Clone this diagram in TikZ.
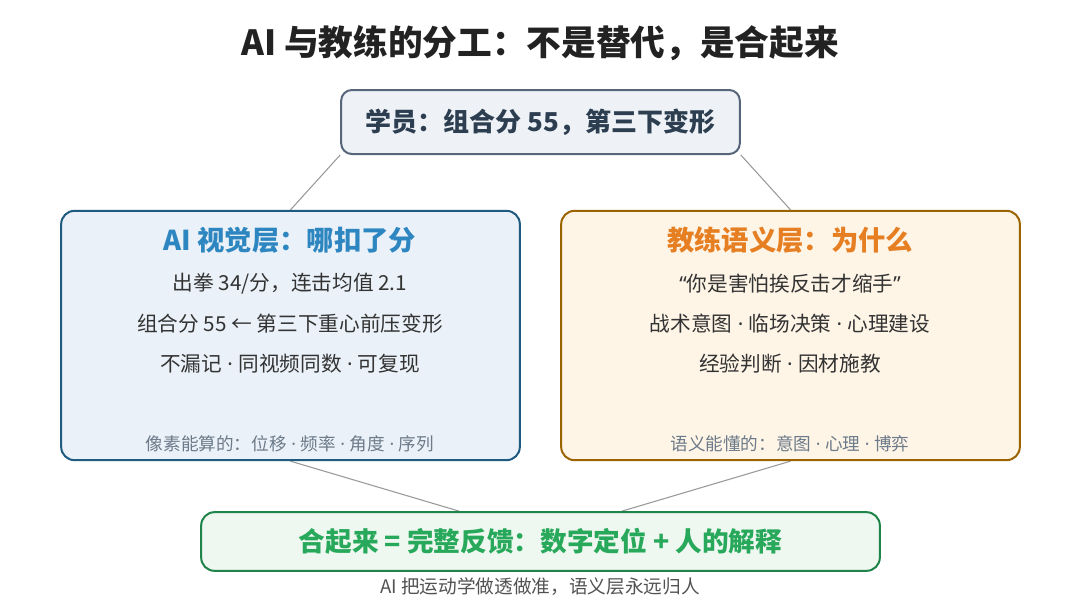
\documentclass[tikz,border=0pt]{standalone}
\usepackage{fontspec}
\setmainfont{Noto Sans CJK SC}
\newfontfamily\latinfont{Noto Sans}
\usetikzlibrary{backgrounds}

\definecolor{titleink}{HTML}{222222}
\definecolor{bodyink}{HTML}{333333}
\definecolor{noteink}{HTML}{6C7A89}
\definecolor{linkgray}{HTML}{999999}
\definecolor{studentfill}{HTML}{EEF2F7}
\definecolor{studentline}{HTML}{56657A}
\definecolor{studentink}{HTML}{2C3E50}
\definecolor{aifill}{HTML}{EAF1F8}
\definecolor{ailine}{HTML}{1F5A80}
\definecolor{aiink}{HTML}{2E86C1}
\definecolor{coachfill}{HTML}{FEF5E7}
\definecolor{coachline}{HTML}{9C6400}
\definecolor{coachink}{HTML}{E67E22}
\definecolor{wholefill}{HTML}{EEF8F1}
\definecolor{wholeline}{HTML}{1E8449}
\definecolor{wholeink}{HTML}{27A85A}

% narrow separator dot and quotes
\newcommand{\sepdot}{{\latinfont\ ·\ }}
\newcommand{\openq}{{\latinfont “}}
\newcommand{\closeq}{{\latinfont ”}}

\begin{document}
\begin{tikzpicture}[x=0.75pt,y=-0.75pt,
    panel/.style={line width=1.5pt, rounded corners=10pt, inner sep=0pt},
    link/.style={draw=linkgray, line width=0.8pt},
    headtext/.style={font=\fontsize{20.5}{24}\selectfont\bfseries},
    bodytext/.style={font=\fontsize{15.5}{18}\selectfont, text=bodyink},
    notetext/.style={font=\fontsize{13.2}{16}\selectfont, text=noteink}]

    \useasboundingbox (0,0) rectangle (1080,603);

    % Title
    \node[font=\fontsize{26}{31}\selectfont\bfseries, text=titleink] (title) at (540,43) {AI 与教练的分工：不是替代，是合起来};

    % Student box
    \node[panel, draw=studentline, fill=studentfill, rounded corners=8pt, minimum width=299pt, minimum height=48pt,
          font=\fontsize{19.5}{23}\selectfont\bfseries, text=studentink] (student) at (540.5,122) {学员：组合分 55，第三下变形};

    % AI vision layer
    \node[panel, draw=ailine, fill=aifill, minimum width=344pt, minimum height=187pt] (aiview) at (290.5,335.5) {};
    \node[headtext, text=aiink] (aihead) at (290,240) {AI 视觉层：哪扣了分};
    \node[bodytext] (aione) at (290,284) {出拳 34/分，连击均值 2.1};
    \node[bodytext] (aitwo) at (290,324) {组合分 55 ← 第三下重心前压变形};
    \node[bodytext] (aithree) at (290,364) {不漏记\sepdot 同视频同数\sepdot 可复现};
    \node[notetext] (ainote) at (290,444) {像素能算的：位移\sepdot 频率\sepdot 角度\sepdot 序列};

    % Coach semantic layer
    \node[panel, draw=coachline, fill=coachfill, minimum width=344pt, minimum height=187pt] (coach) at (790.5,335.5) {};
    \node[headtext, text=coachink] (coachhead) at (790,240) {教练语义层：为什么};
    \node[bodytext] (coachone) at (790,284) {\openq 你是害怕挨反击才缩手\closeq};
    \node[bodytext] (coachtwo) at (790,324) {战术意图\sepdot 临场决策\sepdot 心理建设};
    \node[bodytext] (coachthree) at (790,364) {经验判断\sepdot 因材施教};
    \node[notetext] (coachnote) at (790,444) {语义能懂的：意图\sepdot 心理\sepdot 博弈};

    % Combined feedback
    \node[panel, draw=wholeline, fill=wholefill, minimum width=509pt, minimum height=44pt,
          font=\fontsize{20}{24}\selectfont\bfseries, text=wholeink] (whole) at (540.5,541.5) {合起来 = 完整反馈：数字定位 + 人的解释};
    \node[font=\fontsize{14}{17}\selectfont, text=bodyink!85] (caption) at (540,587) {AI 把运动学做透做准，语义层永远归人};

    % Connectors
    \begin{scope}[on background layer]
        \draw[link] (student.south west) -- (aiview.north);
        \draw[link] (student.south east) -- (coach.north);
        \draw[link] (aiview.south) -- ([xshift=-61pt]whole.north);
        \draw[link] (coach.south) -- ([xshift=61pt]whole.north);
    \end{scope}

\end{tikzpicture}
\end{document}
